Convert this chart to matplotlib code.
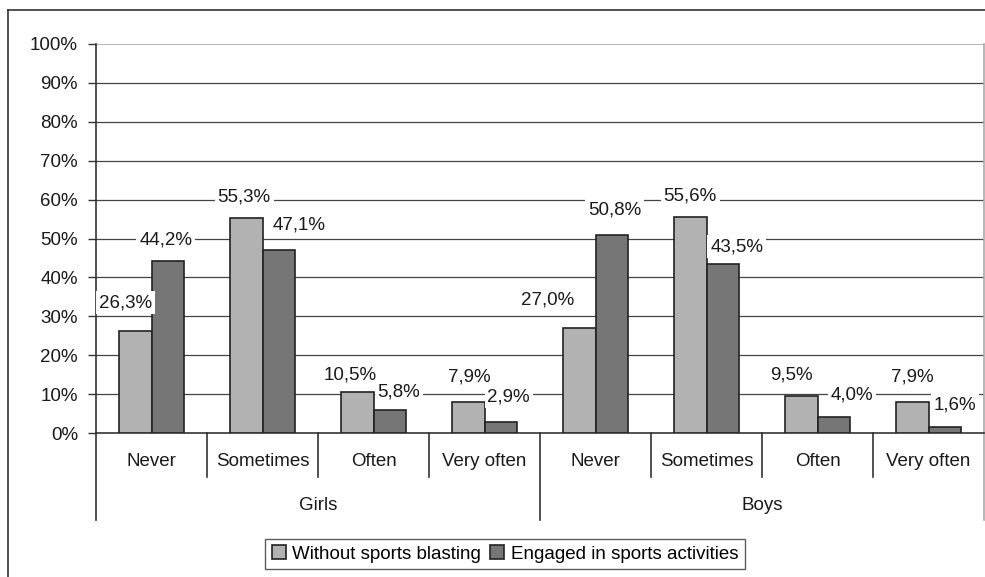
import matplotlib.pyplot as plt
from matplotlib.lines import Line2D

plt.rcParams['font.family'] = ['Liberation Sans', 'DejaVu Sans']

groups = ["Girls", "Boys"]
categories = ["Never", "Sometimes", "Often", "Very often"]
series_names = ["Without sports blasting", "Engaged in sports activities"]
without_sports = [26.3, 55.3, 10.5, 7.9, 27.0, 55.6, 9.5, 7.9]
engaged_sports = [44.2, 47.1, 5.8, 2.9, 50.8, 43.5, 4.0, 1.6]

# label nudges in pixels (dx, dy above bar top)
nudge_without = [(-10, 28), (-2, 21), (-7, 17), (1, 25), (-32, 28), (0, 21), (-10, 21), (0, 25)]
nudge_engaged = [(-2, 21), (20, 25), (9, 18), (8, 25), (3, 25), (14, 17), (18, 22), (10, 22)]

light = "#b2b2b2"
dark = "#767676"
edge = "#222222"
txt = "#1a1a1a"
fs = 13.5

W, H = 985, 577
fig = plt.figure(figsize=(W / 100, H / 100), dpi=100)

# outer chart frame (right and bottom run off the image)
fig.add_artist(Line2D([8 / W, 8 / W], [0, 1 - 10 / H], color="#333333", lw=1.2))
fig.add_artist(Line2D([8 / W, 1], [1 - 10 / H, 1 - 10 / H], color="#333333", lw=1.2))

x0, x1, ytop, ybot = 96, 984, 44, 433
ax = fig.add_axes([x0 / W, 1 - ybot / H, (x1 - x0) / W, (ybot - ytop) / H])

n = len(without_sports)
w = 0.293
centers = [i + 0.5 for i in range(n)]
b1 = ax.bar([c - w / 2 for c in centers], without_sports, w, color=light, edgecolor=edge, lw=1.2, zorder=3)
b2 = ax.bar([c + w / 2 for c in centers], engaged_sports, w, color=dark, edgecolor=edge, lw=1.2, zorder=3)

ax.set_xlim(0, n)
ax.set_ylim(0, 100)
ax.set_yticks(range(0, 101, 10))
ax.set_yticklabels([f"{v}%" for v in range(0, 101, 10)], fontsize=fs, color=txt)
ax.tick_params(axis="y", direction="out", length=6, width=1, color="#333333", pad=7)
ax.set_xticks([])
for v in range(10, 100, 10):
    ax.axhline(v, color="#444444", lw=0.9, zorder=1)
ax.axhline(100, color="#aaaaaa", lw=1.2, zorder=1)

for s in ["top", "right"]:
    ax.spines[s].set_visible(False)
for s in ["left", "bottom"]:
    ax.spines[s].set_color("#333333")
    ax.spines[s].set_linewidth(1.2)

for bars, vals, nudges in [(b1, without_sports, nudge_without), (b2, engaged_sports, nudge_engaged)]:
    for b, v, (dx, dy) in zip(bars, vals, nudges):
        ax.annotate(f"{v:.1f}%".replace(".", ","),
                    (b.get_x() + b.get_width() / 2, v),
                    xytext=(dx, dy), textcoords="offset pixels",
                    ha="center", va="center", fontsize=fs, color=txt, zorder=4,
                    bbox=dict(boxstyle="square,pad=0.15", fc="white", ec="none"))

# category axis: separators and labels
h = ybot - ytop
short = -(477 - ybot) / h
long_ = -(520 - ybot) / h
trans = ax.get_xaxis_transform()
for i in range(n + 1):
    if i % 4 == 0:
        col = "#aaaaaa" if i == n else "#333333"
        ax.plot([i, i], [0, long_], transform=trans, color=col, lw=1.2, clip_on=False)
    else:
        ax.plot([i, i], [0, short], transform=trans, color="#333333", lw=1.2, clip_on=False)
ax.plot([n, n], [0, 1], transform=trans, color="#aaaaaa", lw=1.2, clip_on=False)

for i, c in enumerate(centers):
    ax.text(c, -(462 - ybot) / h, categories[i % 4], transform=trans,
            ha="center", va="center", fontsize=fs, color=txt)
for g, name in enumerate(groups):
    ax.text(g * 4 + 2, -(505 - ybot) / h, name, transform=trans,
            ha="center", va="center", fontsize=fs, color=txt)

leg = fig.legend([b1, b2], series_names, loc="center", bbox_to_anchor=(505 / W, 1 - 554 / H),
                 ncol=2, fontsize=fs, frameon=True, fancybox=False, edgecolor="#333333",
                 handlelength=0.75, handleheight=0.75, handletextpad=0.35, columnspacing=0.5,
                 borderpad=0.35, borderaxespad=0)
leg.get_frame().set_linewidth(1.0)

fig.savefig("out.png", dpi=100)
